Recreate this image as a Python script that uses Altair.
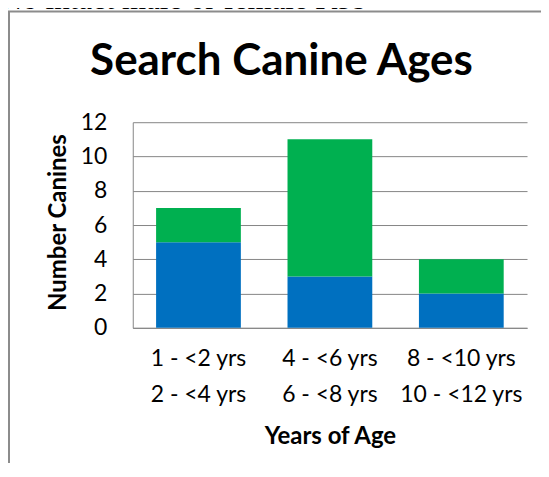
import altair as alt
import pandas as pd

# ---- data ----
age_line1 = ["1 - <2 yrs", "4 - <6 yrs", "8 - <10 yrs"]
age_line2 = ["2 - <4 yrs", "6 - <8 yrs", "10 - <12 yrs"]
series_names = ["Series 1", "Series 2"]
series_colors = ["#0070C0", "#00B050"]
series1_values = [5, 3, 2]   # blue (bottom)
series2_values = [2, 8, 2]   # green (top)
y_ticks = [0, 2, 4, 6, 8, 10, 12]

chart_title = "Search Canine Ages"
note_text = "No intact male or female K9s"

categories = [f"{a}|{b}" for a, b in zip(age_line1, age_line2)]
rows = []
for i, cat in enumerate(categories):
    rows.append({"age": cat, "series": series_names[0], "order": 0, "count": series1_values[i]})
    rows.append({"age": cat, "series": series_names[1], "order": 1, "count": series2_values[i]})
df = pd.DataFrame(rows)

GRID = "#868686"
FONT = "Lato"

bars = alt.Chart(df).mark_bar().encode(
    x=alt.X(
        "age:N",
        sort=categories,
        scale=alt.Scale(paddingInner=0.355, paddingOuter=0.1775),
        axis=alt.Axis(
            title="Years of Age",
            labelExpr="split(datum.label, '|')",
            labelAngle=0,
            labelFont=FONT,
            labelFontSize=23,
            labelColor="black",
            labelBaseline="alphabetic",
            labelPadding=38,
            labelLineHeight=36,
            ticks=False,
            tickSize=0,
            domainColor=GRID,
            domainWidth=1,
            titleFont=FONT,
            titleFontSize=24,
            titleFontWeight="bold",
            titleColor="black",
            titleAlign="center",
            titleBaseline="alphabetic",
            titleX=197.5,
            titleY=116,
        ),
    ),
    y=alt.Y(
        "count:Q",
        stack="zero",
        scale=alt.Scale(domain=[0, 12]),
        axis=alt.Axis(
            title="Number Canines",
            values=y_ticks,
            labelFont=FONT,
            labelFontSize=23,
            labelColor="black",
            labelPadding=26,
            ticks=False,
            tickSize=0,
            grid=True,
            gridColor=GRID,
            gridWidth=1,
            domainColor=GRID,
            domainWidth=1,
            titleFont=FONT,
            titleFontSize=24,
            titleFontWeight="bold",
            titleColor="black",
            titleAngle=270,
            titleAlign="center",
            titleBaseline="alphabetic",
            titleX=-67,
            titleY=100,
        ),
    ),
    color=alt.Color(
        "series:N",
        scale=alt.Scale(domain=series_names, range=series_colors),
        legend=None,
    ),
    order=alt.Order("order:Q", sort="ascending"),
)

deco = alt.Data(values=[{"title": chart_title, "note": note_text}])

border = alt.Chart(deco).mark_rect(
    fill=None, stroke="#8c8c8c", strokeWidth=2
).encode(
    x=alt.value(-124), x2=alt.value(700), y=alt.value(-111), y2=alt.value(700)
)

title = alt.Chart(deco).mark_text(
    font=FONT, fontSize=44, fontWeight="bold", color="black",
    align="center", baseline="alphabetic",
).encode(text="title:N", x=alt.value(149), y=alt.value(-47))

note = alt.Chart(deco).mark_text(
    font="Liberation Serif", fontSize=31, color="black",
    align="left", baseline="alphabetic",
).encode(text="note:N", x=alt.value(-133), y=alt.value(-113))

chart = alt.layer(border, bars, title, note).properties(
    width=395,
    height=206,
    autosize=alt.AutoSizeParams(type="none"),
    padding={"left": 125, "top": 114, "right": 14, "bottom": 135},
    background="white",
).configure_view(stroke=None)

chart.save("out.html", embed_options={"renderer": "svg", "actions": False})
